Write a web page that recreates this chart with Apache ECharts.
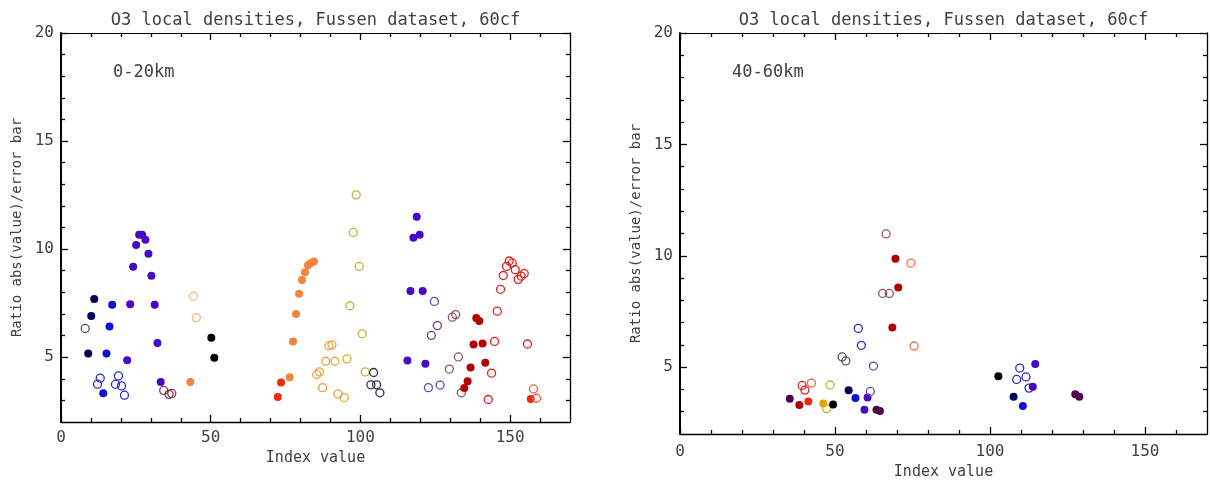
<!DOCTYPE html>
<html>
<head>
<meta charset="utf-8">
<script src="https://cdn.jsdelivr.net/npm/echarts@6/dist/echarts.min.js"></script>
<style>html,body{margin:0;padding:0;background:#fff;}#c{width:1210px;height:481px;}</style>
</head>
<body>
<div id="c"></div>
<script>
// ---------- tick values ----------
const xMajorTicks = [0, 50, 100, 150];
const xMinorTicks = [10, 20, 30, 40, 60, 70, 80, 90, 110, 120, 130, 140, 160];
const yMajorTicks = [5, 10, 15, 20];
const yMinorTicks = [3, 4, 6, 7, 8, 9, 11, 12, 13, 14, 16, 17, 18, 19];

const titleText = 'O3 local densities, Fussen dataset, 60cf';
const xTitle = 'Index value';
const yTitle = 'Ratio abs(value)/error bar';
const panelLabels = ['0-20km', '40-60km'];

// ---------- left panel (0-20km) data: [index, ratio] ----------
const L_navyOpen = [[8.1, 6.33]];
const L_navyFilled = [[9.1, 5.17], [10.1, 6.9], [11.1, 7.69]];
const L_blueOpen = [[12.2, 3.75], [13.1, 4.03], [18.2, 3.75], [19.2, 4.13], [20.2, 3.67], [21.2, 3.24]];
const L_blueFilled = [[14.1, 3.33], [15.2, 5.17], [16.2, 6.42], [17.1, 7.42]];
const L_violetFilled = [[22.1, 4.86], [23.1, 7.45], [24.1, 9.18], [25.1, 10.19], [26.1, 10.66], [27.1, 10.66], [28.2, 10.43], [29.2, 9.79], [30.2, 8.77], [31.3, 7.42], [32.2, 5.65], [33.3, 3.85],
  [115.7, 4.85], [116.7, 8.06], [117.7, 10.52], [118.8, 11.5], [119.8, 10.66], [120.8, 8.06], [121.7, 4.7]];
const L_maroonOpen = [[34.3, 3.46], [36.1, 3.28], [37.0, 3.32]];
const L_orangeFilled = [[43.2, 3.85], [76.4, 4.07], [77.5, 5.72], [78.5, 7.0], [79.5, 7.94], [80.5, 8.57], [81.5, 8.93], [82.5, 9.25], [83.5, 9.36], [84.5, 9.43]];
const L_paleOrangeOpen = [[44.2, 7.82], [45.2, 6.83]];
const L_blackFilled = [[50.2, 5.9], [51.2, 4.97]];
const L_redFilled = [[72.4, 3.16], [73.5, 3.83], [156.9, 3.07]];
const L_lightOrangeOpen = [[85.4, 4.2], [86.3, 4.32], [87.4, 3.59], [88.4, 4.81], [89.5, 5.53], [90.5, 5.57], [91.5, 4.81], [92.5, 3.3], [94.6, 3.13]];
const L_yellowOpen = [[95.5, 4.92], [96.5, 7.38], [97.6, 10.77], [98.6, 12.51], [99.6, 9.2], [100.6, 6.08], [101.6, 4.32]];
const L_darkNavyOpen = [[103.5, 3.72], [104.4, 4.29], [105.4, 3.72], [106.5, 3.35]];
const L_purpleOpen = [[122.7, 3.59], [123.7, 6.01], [124.7, 7.58], [125.7, 6.46], [126.6, 3.71]];
const L_mauveOpen = [[129.7, 4.45], [130.7, 6.85], [131.8, 6.97], [132.7, 5.01], [133.7, 3.35]];
const L_darkRedFilled = [[134.7, 3.57], [135.8, 3.89], [136.8, 4.52], [137.8, 5.59], [138.7, 6.81], [139.7, 6.67], [140.8, 5.63], [141.7, 4.74]];
const L_redOpen = [[142.7, 3.04], [143.8, 4.26], [144.8, 5.73], [145.7, 7.13], [146.8, 8.14], [147.7, 8.78], [148.8, 9.2], [149.7, 9.45], [150.7, 9.36], [151.7, 9.05], [152.7, 8.6], [153.7, 8.75], [154.7, 8.87], [155.8, 5.61]];
const L_orangeRedOpen = [[157.8, 3.53], [158.8, 3.1]];

// ---------- right panel (40-60km) data ----------
const R_darkPurpleFilled = [[35.4, 3.58], [63.4, 3.09], [64.5, 3.03], [127.5, 3.78], [128.8, 3.67]];
const R_darkRedFilled = [[38.5, 3.3], [68.5, 6.78], [69.5, 9.87], [70.4, 8.58]];
const R_redOpen = [[39.4, 4.18], [40.3, 3.97]];
const R_redFilled = [[41.4, 3.46]];
const R_orangeOpen = [[42.4, 4.29], [74.5, 9.67], [75.5, 5.95]];
const R_amberFilled = [[46.2, 3.37]];
const R_yellowOpen = [[47.3, 3.14], [48.4, 4.2]];
const R_blackFilled = [[49.4, 3.32], [102.7, 4.59]];
const R_grayOpen = [[52.3, 5.46], [53.5, 5.28]];
const R_navyFilled = [[54.4, 3.96], [107.6, 3.67]];
const R_blueFilled = [[56.6, 3.62], [110.6, 3.26]];
const R_blueOpen = [[57.5, 6.74], [58.5, 5.98], [108.6, 4.45], [109.6, 4.96], [111.6, 4.56], [112.6, 4.06]];
const R_violetFilled = [[59.5, 3.09], [60.5, 3.64], [113.8, 4.12], [114.6, 5.14]];
const R_purpleOpen = [[61.4, 3.91], [62.4, 5.05]];
const R_mauveOpen = [[65.4, 8.31], [66.5, 10.98], [67.5, 8.31]];

// ---------- styles (kept apart from data) ----------
const palette = {
  navyOpen: '#505068', navyFilled: '#000058', blueOpen: '#2828c8', blueFilled: '#0a14d0',
  violetFilled: '#4808c8', maroonOpen: '#803050', orangeFilled: '#f5843c', paleOrangeOpen: '#f0b870',
  blackFilled: '#000000', redFilled: '#f02a0a', lightOrangeOpen: '#eea040', yellowOpen: '#c8b038',
  darkNavyOpen: '#303048', purpleOpen: '#6848a0', mauveOpen: '#905068', darkRedFilled: '#b00000',
  redOpen: '#e02020', orangeRedOpen: '#f06040', darkPurpleFilled: '#500050', amberFilled: '#f0a000',
  grayOpen: '#505060', orangeOpen: '#f07040'
};

const groups = [
  [0, 'navyOpen', L_navyOpen], [0, 'navyFilled', L_navyFilled], [0, 'blueOpen', L_blueOpen],
  [0, 'blueFilled', L_blueFilled], [0, 'violetFilled', L_violetFilled], [0, 'maroonOpen', L_maroonOpen],
  [0, 'orangeFilled', L_orangeFilled], [0, 'paleOrangeOpen', L_paleOrangeOpen], [0, 'blackFilled', L_blackFilled],
  [0, 'redFilled', L_redFilled], [0, 'lightOrangeOpen', L_lightOrangeOpen], [0, 'yellowOpen', L_yellowOpen],
  [0, 'darkNavyOpen', L_darkNavyOpen], [0, 'purpleOpen', L_purpleOpen], [0, 'mauveOpen', L_mauveOpen],
  [0, 'darkRedFilled', L_darkRedFilled], [0, 'redOpen', L_redOpen], [0, 'orangeRedOpen', L_orangeRedOpen],
  [1, 'darkPurpleFilled', R_darkPurpleFilled], [1, 'darkRedFilled', R_darkRedFilled], [1, 'redOpen', R_redOpen],
  [1, 'redFilled', R_redFilled], [1, 'orangeOpen', R_orangeOpen], [1, 'amberFilled', R_amberFilled],
  [1, 'yellowOpen', R_yellowOpen], [1, 'blackFilled', R_blackFilled], [1, 'grayOpen', R_grayOpen],
  [1, 'navyFilled', R_navyFilled], [1, 'blueFilled', R_blueFilled], [1, 'blueOpen', R_blueOpen],
  [1, 'violetFilled', R_violetFilled], [1, 'purpleOpen', R_purpleOpen], [1, 'mauveOpen', R_mauveOpen]
];

const FONT = 'DejaVu Sans Mono';
const TXT = '#404040';
const grids = [
  { left: 61, top: 33, width: 509, height: 389, labelGap: 8 },
  { left: 680, top: 33, width: 527, height: 401, labelGap: 10 }
];

const xAxes = [], yAxes = [];
grids.forEach((g, gi) => {
  const base = { gridIndex: gi, type: 'value', splitLine: { show: false } };
  const line = (w) => ({ show: true, onZero: false, lineStyle: { color: '#000', width: w } });
  const tick = (len, vals) => ({ inside: true, length: len, customValues: vals, lineStyle: { color: '#000', width: 1.3 } });
  // x axes: bottom major (labels), bottom minor, top major, top minor
  xAxes.push(Object.assign({}, base, { min: 0, max: 170, position: 'bottom', axisLine: line(1.3),
    axisTick: tick(7, xMajorTicks),
    axisLabel: { customValues: xMajorTicks, color: TXT, fontFamily: FONT, fontSize: 16, margin: g.labelGap } }));
  xAxes.push(Object.assign({}, base, { min: 0, max: 170, position: 'bottom', offset: 0, axisLine: { show: false, onZero: false },
    axisTick: tick(4, xMinorTicks), axisLabel: { show: false } }));
  xAxes.push(Object.assign({}, base, { min: 0, max: 170, position: 'top', offset: 0, axisLine: line(1),
    axisTick: tick(7, xMajorTicks), axisLabel: { show: false } }));
  xAxes.push(Object.assign({}, base, { min: 0, max: 170, position: 'top', offset: 0, axisLine: { show: false, onZero: false },
    axisTick: tick(4, xMinorTicks), axisLabel: { show: false } }));
  // y axes: left major (labels), left minor, right major, right minor
  yAxes.push(Object.assign({}, base, { min: 2, max: 20, position: 'left', offset: 0, axisLine: line(2),
    axisTick: tick(7, yMajorTicks),
    axisLabel: { customValues: yMajorTicks, color: TXT, fontFamily: FONT, fontSize: 16, margin: 7 } }));
  yAxes.push(Object.assign({}, base, { min: 2, max: 20, position: 'left', offset: 0, axisLine: { show: false, onZero: false },
    axisTick: tick(4, yMinorTicks), axisLabel: { show: false } }));
  yAxes.push(Object.assign({}, base, { min: 2, max: 20, position: 'right', offset: 0, axisLine: line(1.3),
    axisTick: tick(7, yMajorTicks), axisLabel: { show: false } }));
  yAxes.push(Object.assign({}, base, { min: 2, max: 20, position: 'right', offset: 0, axisLine: { show: false, onZero: false },
    axisTick: tick(4, yMinorTicks), axisLabel: { show: false } }));
});

const series = groups.map(([gi, key, data]) => {
  const c = palette[key];
  const filled = key.indexOf('Filled') >= 0;
  return {
    type: 'scatter', xAxisIndex: gi * 4, yAxisIndex: gi * 4, data: data,
    symbol: 'circle', symbolSize: 8, silent: true,
    itemStyle: filled ? { color: c, opacity: 1 } : { color: 'rgba(255,255,255,0)', borderColor: c, borderWidth: 1.3, opacity: 1 }
  };
});

const graphics = [];
grids.forEach((g, gi) => {
  const cx = g.left + g.width / 2;
  const cy = g.top + g.height / 2;
  graphics.push({ type: 'text', x: cx, y: 21, style: { text: titleText, fill: TXT, font: '17px "' + FONT + '"', textAlign: 'center', textVerticalAlign: 'middle' } });
  graphics.push({ type: 'text', x: g.left + 52, y: 73, style: { text: panelLabels[gi], fill: TXT, font: '17px "' + FONT + '"', textAlign: 'left', textVerticalAlign: 'middle' } });
  graphics.push({ type: 'text', x: cx, y: gi === 0 ? 458 : 472, style: { text: xTitle, fill: TXT, font: '15px "' + FONT + '"', textAlign: 'center', textVerticalAlign: 'middle' } });
  graphics.push({ type: 'text', x: gi === 0 ? 17 : 636, y: cy, rotation: Math.PI / 2, style: { text: yTitle, fill: TXT, font: '14px "' + FONT + '"', textAlign: 'center', textVerticalAlign: 'middle' } });
});

const chart = echarts.init(document.getElementById('c'), null, { renderer: 'canvas' });
chart.setOption({
  animation: false,
  backgroundColor: '#fff',
  grid: grids.map(g => ({ left: g.left, top: g.top, width: g.width, height: g.height, containLabel: false })),
  xAxis: xAxes,
  yAxis: yAxes,
  series: series,
  graphic: graphics
});
</script>
</body>
</html>
